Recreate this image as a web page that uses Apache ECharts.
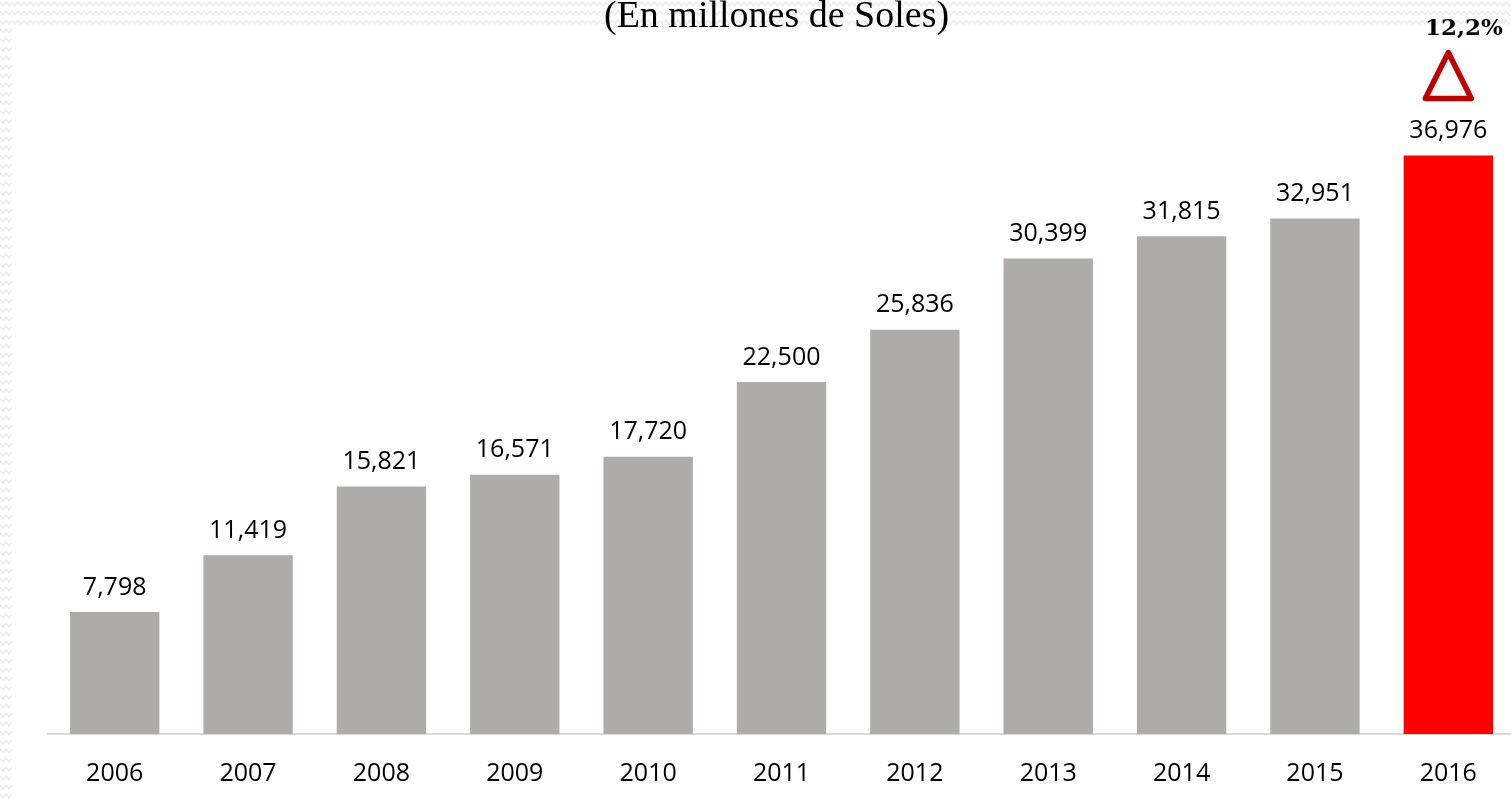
<!DOCTYPE html>
<html><head><meta charset="utf-8">
<script src="https://cdn.jsdelivr.net/npm/echarts@6/dist/echarts.min.js"></script>
<style>
html,body{margin:0;padding:0;background:#fff;overflow:hidden}
#wrap{position:relative;width:1511px;height:800px;overflow:hidden;
  background-image:url("data:image/svg+xml;utf8,<svg xmlns='http://www.w3.org/2000/svg' width='12' height='9'><polyline points='0,2 3,6 6,2 9,6 12,2' fill='none' stroke='%23EDEDED' stroke-width='1.6'/></svg>");
  background-size:12px 9px;}
#white{position:absolute;left:12px;top:26px;right:0;bottom:0;background:#fff}
#c{position:absolute;left:0;top:0;width:1540px;height:800px}
</style>
</head><body><div id="wrap"><div id="white"></div><div id="c"></div></div>
<script>
const categories = ['2006','2007','2008','2009','2010','2011','2012','2013','2014','2015','2016'];
const values = [7798, 11419, 15821, 16571, 17720, 22500, 25836, 30399, 31815, 32951, 36976];
const growthLabel = '12,2%';
const titleText = '(En millones de Soles)';

const chart = echarts.init(document.getElementById('c'));
chart.setOption({
  backgroundColor: 'transparent',
  animation: false,
  graphic: [{
    type: 'text', left: 604, top: -2,
    style: { text: titleText, font: '38px "Liberation Serif"', fill: '#000' }
  }, {
    type: 'text', left: 1425, top: 18,
    style: { text: growthLabel, font: 'bold 23px "DejaVu Serif"', fill: '#000' }
  }],
  grid: { left: 48, width: 1467, top: 30, bottom: 66 },
  xAxis: {
    type: 'category', data: categories,
    axisLine: { lineStyle: { color: '#D9D9D9', width: 2 } },
    axisTick: { show: false },
    axisLabel: { fontFamily: 'Open Sans', fontSize: 25, color: '#000', margin: 27 }
  },
  yAxis: { type: 'value', min: 0, max: 45000, show: false, splitLine: { show: false } },
  series: [{
    type: 'bar', barCategoryGap: '33%',
    data: values.map((v, i) => ({ value: v, itemStyle: { color: i === values.length - 1 ? '#FF0000' : '#AFABAB' } })),
    label: {
      show: true, position: 'top', distance: 12,
      fontFamily: 'Open Sans', fontSize: 25, color: '#000',
      formatter: p => p.value.toLocaleString('en-US')
    },
    markPoint: {
      silent: true,
      data: [{ coord: [categories[categories.length - 1], values[values.length - 1]] }],
      symbol: 'triangle', symbolSize: [46, 46], symbolOffset: [0, -80],
      itemStyle: { color: '#fff', borderColor: '#C00000', borderWidth: 5.5, borderJoin: 'round' },
      label: { show: false }
    }
  }]
});
</script></body></html>
